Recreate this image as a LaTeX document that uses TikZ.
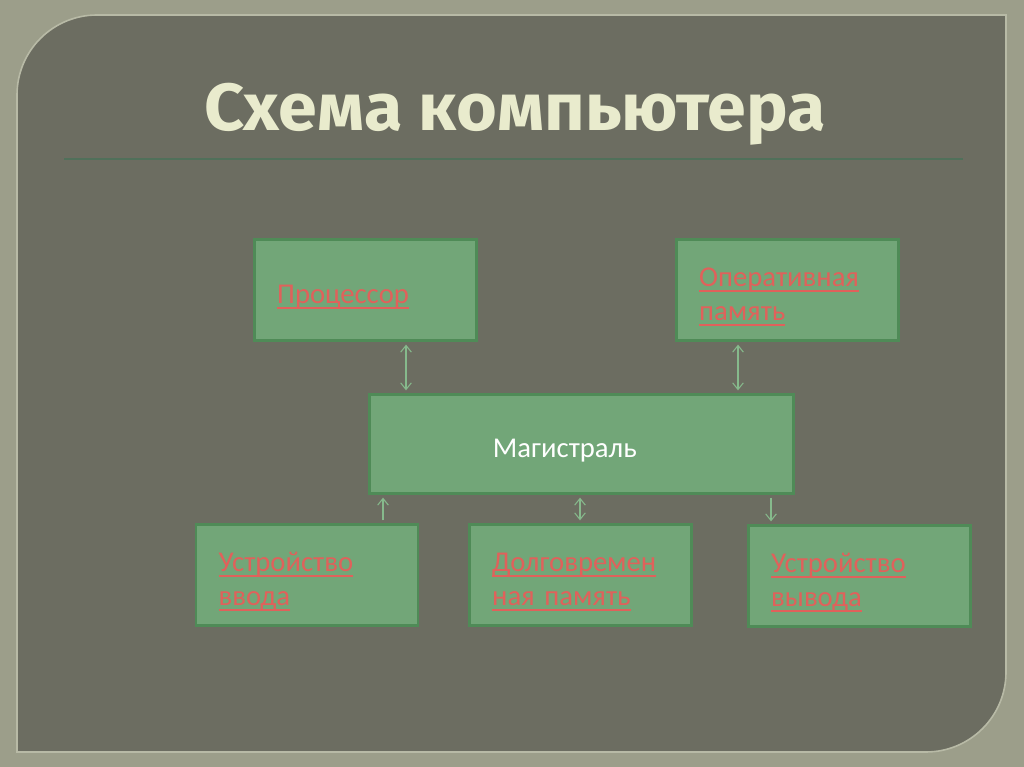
\documentclass[tikz,border=0pt]{standalone}
\usepackage{fontspec}
\setmainfont{Carlito}
\newfontfamily\titlefont{Fira Sans}
\newcommand\myul[1]{\leavevmode\hbox{\setbox0=\hbox{#1}\rlap{\rule[-4.2pt]{\wd0}{1.4pt}}\box0}}
\usetikzlibrary{arrows.meta,calc}
\definecolor{outerbg}{HTML}{9C9E8A}
\definecolor{panel}{HTML}{6C6D61}
\definecolor{panelhi}{HTML}{B8BAA6}
\definecolor{boxfill}{HTML}{72A678}
\definecolor{boxborder}{HTML}{4F8B57}
\definecolor{linkcol}{HTML}{86BA8C}
\definecolor{redtext}{HTML}{E0615B}
\definecolor{titlecol}{HTML}{E9EBCD}
\definecolor{rulecol}{HTML}{50705A}
\tikzset{
  box/.style={draw=boxborder, fill=boxfill, line width=2.2pt, minimum height=75.75pt,
    text width=132.5pt, inner xsep=17pt, inner ysep=0pt, align=left,
    font=\fontsize{21.5}{25.5}\selectfont, text=redtext,
    execute at begin node={\rule{0pt}{24pt}}},
  busbox/.style={box, minimum height=74.25pt, text width=132.8pt, inner xsep=92.6pt, text=white},
  link/.style={draw=linkcol, line width=0.8pt, shorten <=2pt, shorten >=2pt},
  tip/.style={-{Straight Barb[length=5pt,width=8pt]}},
  tips/.style={{Straight Barb[length=5pt,width=8pt]}-{Straight Barb[length=5pt,width=8pt]}},
  titletext/.style={font=\titlefont\bfseries\fontsize{50}{56}\selectfont, anchor=base, text=titlecol}
}
\begin{document}
\begin{tikzpicture}[x=0.75pt,y=0.75pt]
\useasboundingbox (0,0) rectangle (1024,767);
\fill[outerbg] (0,0) rectangle (1024,767);
\filldraw[fill=panel, draw=panelhi, line width=1.2pt]
  (17,15) -- (17,672) arc[start angle=180, end angle=90, radius=80]
  -- (1006,752) -- (1006,95) arc[start angle=0, end angle=-90, radius=80] -- cycle;
% title
\node[titletext] (title) at (515,636) {\scalebox{1.05}[1]{Схема компьютера}};
\draw[rulecol, line width=1.5pt] (64,608) -- (963,608);
% boxes
\node[box] (proc) at (365.5,477) {\myul{Процессор}};
\node[box] (ram) at (787.5,477) {\myul{Оперативная}\\\myul{память}};
\node[busbox] (bus) at (581.5,323) {Магистраль};
\node[box] (in) at (307,192) {\myul{Устройство}\\\myul{ввода}};
\node[box] (disk) at (580.5,192) {\myul{Долговремен}\\\myul{ная память}};
\node[box] (out) at (859.5,191) {\myul{Устройство}\\\myul{вывода}};
% connectors
\draw[link, tips] ($(proc.south)+(40.5,0)$) -- ($(bus.north)+(-175.5,0)$);
\draw[link, tips] ($(ram.south)+(-49.5,0)$) -- ($(bus.north)+(156.5,0)$);
\draw[link, tip] ($(in.north)+(76,0)$) -- ($(bus.south)+(-198.5,0)$);
\draw[link, tips] ($(disk.north)+(-0.5,0)$) -- ($(bus.south)+(-1.5,0)$);
\draw[link, tip] ($(bus.south)+(189.5,0)$) -- ($(out.north)+(-88.5,0)$);
\end{tikzpicture}
\end{document}
